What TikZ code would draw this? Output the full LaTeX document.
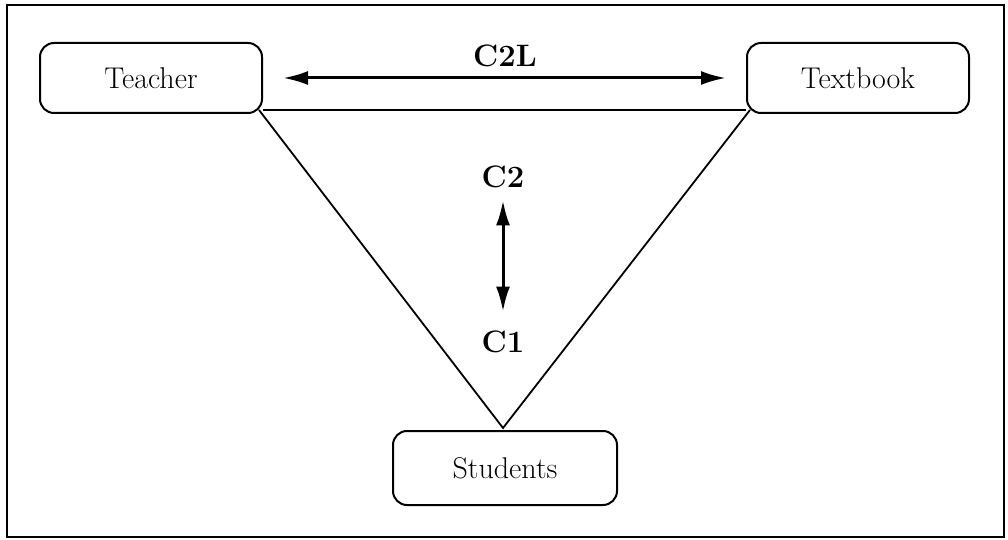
\documentclass[tikz,border=0pt]{standalone}
\usetikzlibrary{arrows.meta}
\tikzset{
  party/.style={draw,fill=white,rounded corners=7pt,line width=1pt,minimum width=111pt,minimum height=35pt,font=\fontsize{15}{18}\selectfont},
  clabel/.style={font=\fontsize{15.5}{18}\selectfont\bfseries,inner sep=0pt},
  side/.style={line width=0.9pt},
  both/.style={{Latex[length=12.5pt,width=7pt]}-{Latex[length=12.5pt,width=7pt]},line width=1.5pt},
}

\begin{document}
\begin{tikzpicture}[x=0.5pt,y=-0.5pt]
  \useasboundingbox (0,0) rectangle (1008,540);
  \draw[line width=1pt] (7,5) rectangle (1004,537);
  % the three parties
  \node[party] (teacher) at (151,78) {Teacher};
  \node[party] (textbook) at (858,78) {Textbook};
  \node[party,minimum width=112pt,minimum height=37pt] (students) at (505,468) {Students};
  \coordinate (apex) at (503,428);
  % triangle
  \draw[side] ([shift={(-2pt,2pt)}]teacher.south east) -- (apex) -- ([shift={(2pt,2pt)}]textbook.south west);
  \draw[side] ([yshift=2pt]teacher.south east) -- ([yshift=2pt]textbook.south west);
  % labels and arrows
  \node[clabel] (c2l) at (505,56) {C2L};
  \draw[both,shorten <=10pt,shorten >=10pt] (teacher) -- (textbook);
  \node[clabel] (c2) at (503,177) {C2};
  \node[clabel] (c1) at (503,342) {C1};
  \draw[both,shorten <=6pt,shorten >=9.5pt] (c2) -- (c1);
\end{tikzpicture}
\end{document}
